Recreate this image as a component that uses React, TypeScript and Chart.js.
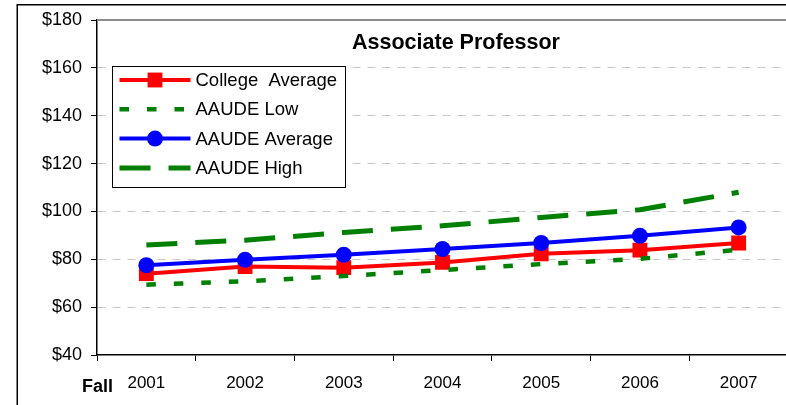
import React, { useEffect, useRef } from 'react';
import { Chart, registerables } from 'chart.js';

Chart.register(...registerables);

const categories = ['2001', '2002', '2003', '2004', '2005', '2006', '2007'];
const collegeAverage = [74, 77, 76.5, 78.7, 82.3, 83.8, 86.8];
const aaudeLow = [69.4, 70.8, 73, 75.5, 78, 80.2, 84];
const aaudeAverage = [77.5, 79.8, 81.9, 84.3, 86.8, 89.8, 93.3];
const aaudeHigh = [86, 88, 91.2, 94, 97.5, 100.7, 108];
const yMin = 40;
const yMax = 180;
const yStep = 20;
const titleText = 'Associate Professor';
const xAxisLabel = 'Fall';
const seriesNames = ['College  Average', 'AAUDE Low', 'AAUDE Average', 'AAUDE High'];

const FONT = '"Liberation Sans", Arial, sans-serif';

const decorPlugin = {
  id: 'decor',
  beforeDraw(chart: any) {
    const { ctx } = chart;
    ctx.save();
    ctx.fillStyle = '#ffffff';
    ctx.fillRect(0, 0, chart.width, chart.height);
    ctx.strokeStyle = '#000000';
    ctx.lineWidth = 1.5;
    ctx.strokeRect(17.25, 4.75, 1000, 1000);
    ctx.restore();
  },
  afterDatasetsDraw(chart: any) {
    const { ctx, chartArea } = chart;
    ctx.save();
    ctx.strokeStyle = '#8c8c8c';
    ctx.lineWidth = 2;
    ctx.beginPath();
    ctx.moveTo(chartArea.left, chartArea.top);
    ctx.lineTo(chartArea.right, chartArea.top);
    ctx.lineTo(chartArea.right, chartArea.bottom);
    ctx.stroke();

    ctx.fillStyle = '#000000';
    ctx.font = 'bold 21.5px ' + FONT;
    ctx.textAlign = 'center';
    ctx.textBaseline = 'middle';
    ctx.fillText(titleText, chartArea.left + 359, chartArea.top + 23);

    ctx.font = 'bold 18px ' + FONT;
    ctx.textAlign = 'left';
    ctx.fillText(xAxisLabel, chartArea.left - 15, chartArea.bottom + 32);

    const bx = chartArea.left + 15.5;
    const by = chartArea.top + 46.5;
    const bw = 233;
    const bh = 121;
    ctx.fillStyle = '#ffffff';
    ctx.fillRect(bx, by, bw, bh);
    ctx.strokeStyle = '#000000';
    ctx.lineWidth = 1;
    ctx.strokeRect(bx, by, bw, bh);

    const datasets = chart.data.datasets;
    datasets.forEach((ds: any, i: number) => {
      const cy = by + 13.5 + i * 29.3;
      const x1 = bx + 7;
      const x2 = bx + 78;
      ctx.save();
      ctx.strokeStyle = ds.borderColor;
      ctx.lineWidth = ds.borderWidth;
      ctx.lineCap = 'butt';
      ctx.setLineDash(ds.borderDash || []);
      ctx.beginPath();
      ctx.moveTo(x1, cy);
      ctx.lineTo(x2, cy);
      ctx.stroke();
      ctx.setLineDash([]);
      const mx = (x1 + x2) / 2;
      if (ds.pointRadius > 0) {
        ctx.fillStyle = ds.pointBackgroundColor;
        if (ds.pointStyle === 'rect') {
          const s = Math.SQRT1_2 * ds.pointRadius;
          ctx.fillRect(mx - s, cy - s, 2 * s, 2 * s);
        } else {
          ctx.beginPath();
          ctx.arc(mx, cy, ds.pointRadius, 0, Math.PI * 2);
          ctx.fill();
        }
      }
      ctx.restore();
      ctx.fillStyle = '#000000';
      ctx.font = '18.5px ' + FONT;
      ctx.textAlign = 'left';
      ctx.textBaseline = 'middle';
      ctx.fillText(ds.label, bx + 83, cy + 1);
    });
    ctx.restore();
  },
};

export default function App() {
  const canvasRef = useRef<HTMLCanvasElement | null>(null);

  useEffect(() => {
    const canvas = canvasRef.current;
    if (!canvas) return;
    const chart = new Chart(canvas, {
      type: 'line',
      data: {
        labels: categories,
        datasets: [
          {
            label: seriesNames[0],
            data: collegeAverage,
            borderColor: '#ff0000',
            backgroundColor: '#ff0000',
            borderWidth: 4,
            pointStyle: 'rect',
            pointRadius: 10.5,
            pointBackgroundColor: '#ff0000',
            pointBorderColor: '#ff0000',
            pointBorderWidth: 0,
            order: 4,
          },
          {
            label: seriesNames[1],
            data: aaudeLow,
            borderColor: '#008000',
            backgroundColor: '#008000',
            borderWidth: 4.5,
            borderDash: [9.5, 18],
            borderCapStyle: 'butt',
            pointRadius: 0,
            order: 3,
          },
          {
            label: seriesNames[2],
            data: aaudeAverage,
            borderColor: '#0000ff',
            backgroundColor: '#0000ff',
            borderWidth: 4,
            pointStyle: 'circle',
            pointRadius: 8,
            pointBackgroundColor: '#0000ff',
            pointBorderColor: '#0000ff',
            pointBorderWidth: 0,
            order: 2,
          },
          {
            label: seriesNames[3],
            data: aaudeHigh,
            borderColor: '#008000',
            backgroundColor: '#008000',
            borderWidth: 5,
            borderDash: [31, 18],
            borderCapStyle: 'butt',
            pointRadius: 0,
            order: 1,
          },
        ] as any,
      },
      options: {
        animation: false,
        responsive: false,
        devicePixelRatio: 1,
        layout: { padding: { top: 20, right: 12, left: 0, bottom: 0 } },
        plugins: {
          legend: { display: false },
          title: { display: false },
          tooltip: { enabled: false },
        },
        scales: {
          x: {
            type: 'category',
            offset: true,
            grid: {
              offset: true,
              drawOnChartArea: false,
              drawTicks: true,
              tickLength: 6,
              tickColor: '#000000',
              tickWidth: 1,
            },
            border: { display: true, color: '#000000', width: 1.5 },
            ticks: {
              color: '#000000',
              font: { family: FONT, size: 17 },
              padding: 12,
              maxRotation: 0,
              autoSkip: false,
            },
            afterFit(scale: any) {
              scale.height = 50;
            },
          },
          y: {
            min: yMin,
            max: yMax,
            ticks: {
              stepSize: yStep,
              color: '#000000',
              font: { family: FONT, size: 18 },
              padding: 9,
              callback: (v: any) => '$' + v,
            },
            grid: {
              color: (ctx: any) => {
                const v = ctx.tick ? ctx.tick.value : null;
                return v !== null && v > yMin && v < yMax ? '#c8c8c8' : 'rgba(0,0,0,0)';
              },
              lineWidth: 1,
              drawTicks: true,
              tickLength: 6,
              tickColor: '#000000',
              tickWidth: 1,
            },
            border: { display: true, color: '#000000', width: 1.5, dash: [8, 7] },
            afterFit(scale: any) {
              scale.width = 97;
            },
          },
        },
      } as any,
      plugins: [decorPlugin],
    });
    return () => chart.destroy();
  }, []);

  return (
    <div style={{ position: 'fixed', left: 0, top: 0, width: 786, height: 405, overflow: 'hidden', background: '#fff' }}>
      <canvas ref={canvasRef} width={800} height={405} style={{ display: 'block' }} />
    </div>
  );
}
